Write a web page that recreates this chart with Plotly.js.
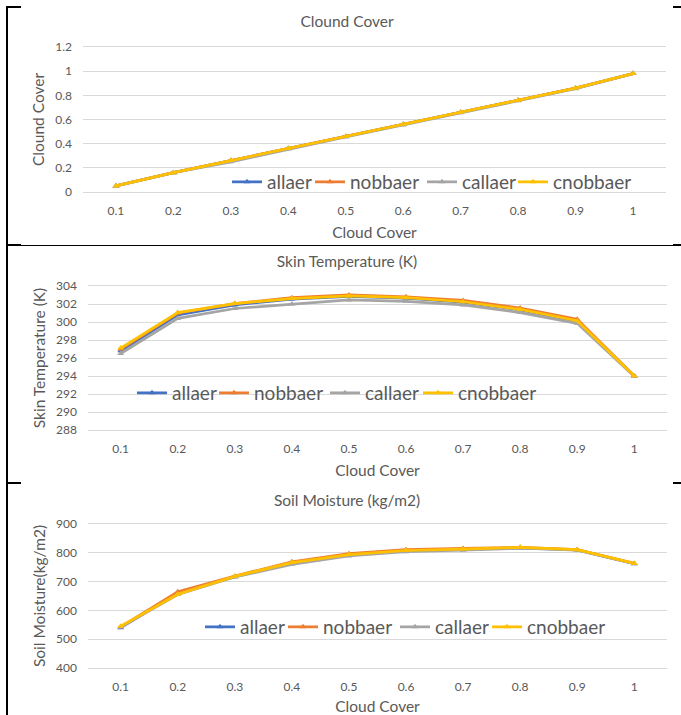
<!DOCTYPE html>
<html>
<head>
<meta charset="utf-8">
<script src="https://cdn.plot.ly/plotly-3.0.1.min.js"></script>
<style>
  html, body { margin: 0; padding: 0; background: #ffffff; }
  body { width: 681px; height: 715px; position: relative; overflow: hidden; }
  .panel { position: absolute; left: 0; width: 681px; }
  .bd { position: absolute; background: #000; }
</style>
</head>
<body>
<div id="p1" class="panel" style="top:0px;height:245px;"></div>
<div id="p2" class="panel" style="top:245px;height:238px;"></div>
<div id="p3" class="panel" style="top:483px;height:232px;"></div>

<div class="bd" style="left:6px;top:6px;width:2px;height:709px;"></div>
<div class="bd" style="left:6px;top:6px;width:15px;height:2px;"></div>
<div class="bd" style="left:673px;top:6px;width:8px;height:2px;"></div>
<div class="bd" style="left:6px;top:245px;width:675px;height:1px;"></div>
<div class="bd" style="left:6px;top:244px;width:15px;height:2px;"></div>
<div class="bd" style="left:673px;top:244px;width:8px;height:2px;"></div>
<div class="bd" style="left:6px;top:482px;width:15px;height:2px;"></div>
<div class="bd" style="left:673px;top:482px;width:8px;height:2px;"></div>

<script>
// ---------- data ----------
const cloudCover = ['0.1', '0.2', '0.3', '0.4', '0.5', '0.6', '0.7', '0.8', '0.9', '1'];
const seriesNames = ['allaer', 'nobbaer', 'callaer', 'cnobbaer'];

// Panel 1: Clound Cover
const cc_allaer   = [0.05, 0.16, 0.26, 0.36, 0.46, 0.56, 0.66, 0.76, 0.86, 0.98];
const cc_nobbaer  = [0.05, 0.16, 0.26, 0.36, 0.46, 0.56, 0.66, 0.76, 0.86, 0.98];
const cc_callaer  = [0.05, 0.16, 0.25, 0.355, 0.455, 0.555, 0.655, 0.755, 0.855, 0.98];
const cc_cnobbaer = [0.05, 0.16, 0.26, 0.36, 0.46, 0.56, 0.66, 0.76, 0.86, 0.98];

// Panel 2: Skin Temperature (K)
const st_allaer   = [296.8, 300.8, 301.9, 302.55, 302.85, 302.65, 302.2, 301.35, 300.1, 294.0];
const st_nobbaer  = [297.0, 301.0, 302.05, 302.7, 303.0, 302.8, 302.4, 301.55, 300.3, 294.0];
const st_callaer  = [296.5, 300.4, 301.5, 302.0, 302.45, 302.3, 301.9, 301.05, 299.85, 293.95];
const st_cnobbaer = [297.1, 301.05, 302.05, 302.6, 302.9, 302.7, 302.25, 301.4, 300.15, 294.0];

// Panel 3: Soil Moisture (kg/m2)
const sm_allaer   = [540, 660, 717, 765, 793, 808, 812, 817, 810, 762];
const sm_nobbaer  = [543, 665, 719, 769, 797, 811, 815, 819, 811, 763];
const sm_callaer  = [542, 655, 716, 760, 789, 804, 809, 816, 809, 762];
const sm_cnobbaer = [545, 656, 718, 766, 794, 808, 813, 819, 811, 763];

const yTitles = ['Clound Cover', 'Skin Temperature (K)', 'Soil Moisture(kg/m2)'];
const chartTitles = ['Clound Cover', 'Skin Temperature (K)', 'Soil Moisture (kg/m2)'];
const xTitle = 'Cloud Cover';

// ---------- style ----------
const colors = ['#4472C4', '#ED7D31', '#A5A5A5', '#FFC000'];
const FONT = 'Lato, "Open Sans", "DejaVu Sans", sans-serif';
const TXT = '#595959';
const GRID = '#D9D9D9';

const panels = [
  { id: 'p1', h: 245, m: {l: 83, r: 15, t: 47, b: 53}, range: [0, 1.2], dtick: 0.2,
    data: [cc_allaer, cc_nobbaer, cc_callaer, cc_cnobbaer], titleY: 22,
    legendText: [267, 350, 462, 553], legendY: 182 },
  { id: 'p2', h: 238, m: {l: 88, r: 14, t: 41, b: 53}, range: [288, 304], dtick: 2,
    data: [st_allaer, st_nobbaer, st_callaer, st_cnobbaer], titleY: 17,
    legendText: [172, 254, 365, 458], legendY: 148 },
  { id: 'p3', h: 232, m: {l: 88, r: 14, t: 41, b: 47}, range: [400, 900], dtick: 100,
    data: [sm_allaer, sm_nobbaer, sm_callaer, sm_cnobbaer], titleY: 18,
    legendText: [240, 323, 435, 527], legendY: 144 }
];

panels.forEach(function (p, pi) {
  const W = 681 - p.m.l - p.m.r;
  const H = p.h - p.m.t - p.m.b;
  const traces = seriesNames.map(function (name, i) {
    return {
      type: 'scatter', mode: 'lines+markers', name: name,
      x: cloudCover, y: p.data[i],
      line: { color: colors[i], width: 2.75 },
      marker: { color: colors[i], size: 6, symbol: 'triangle-up' },
      legend: i === 0 ? 'legend' : 'legend' + (i + 1),
      hoverinfo: 'skip'
    };
  });
  const layout = {
    width: 681, height: p.h,
    margin: { l: p.m.l, r: p.m.r, t: p.m.t, b: p.m.b, pad: 0 },
    paper_bgcolor: 'rgba(0,0,0,0)', plot_bgcolor: 'rgba(0,0,0,0)',
    font: { family: FONT, color: TXT, size: 12 },
    title: { text: chartTitles[pi], font: { family: FONT, size: 15.5, color: TXT },
             x: 347 / 681, xref: 'container', xanchor: 'center',
             y: 1 - p.titleY / p.h, yref: 'container', yanchor: 'middle' },
    xaxis: { type: 'category', showgrid: false, zeroline: false,
             showline: true, mirror: true, linecolor: GRID, linewidth: 1,
             ticks: '', ticklabelstandoff: 8,
             tickfont: { family: FONT, size: 12, color: TXT },
             title: { text: xTitle, font: { family: FONT, size: 15.5, color: TXT }, standoff: 9 },
             automargin: false, fixedrange: true },
    yaxis: { range: p.range, dtick: p.dtick, tick0: p.range[0],
             showgrid: true, gridcolor: GRID, gridwidth: 1, zeroline: false, showline: false,
             ticks: '', ticklabelstandoff: 10,
             tickfont: { family: FONT, size: 12, color: TXT },
             title: { text: yTitles[pi], font: { family: FONT, size: 15.5, color: TXT }, standoff: 6 },
             automargin: false, fixedrange: true },
    showlegend: true
  };
  p.legendText.forEach(function (tx, i) {
    const key = i === 0 ? 'legend' : 'legend' + (i + 1);
    layout[key] = {
      orientation: 'h', xref: 'paper', yref: 'paper',
      x: (tx - 40 - p.m.l) / W, xanchor: 'left',
      y: (p.m.t + H - p.legendY) / H, yanchor: 'middle',
      bgcolor: 'rgba(0,0,0,0)', borderwidth: 0,
      font: { family: FONT, size: 19, color: TXT },
      itemwidth: 30
    };
  });
  Plotly.newPlot(p.id, traces, layout, { staticPlot: true, displayModeBar: false });
});
</script>
</body>
</html>
